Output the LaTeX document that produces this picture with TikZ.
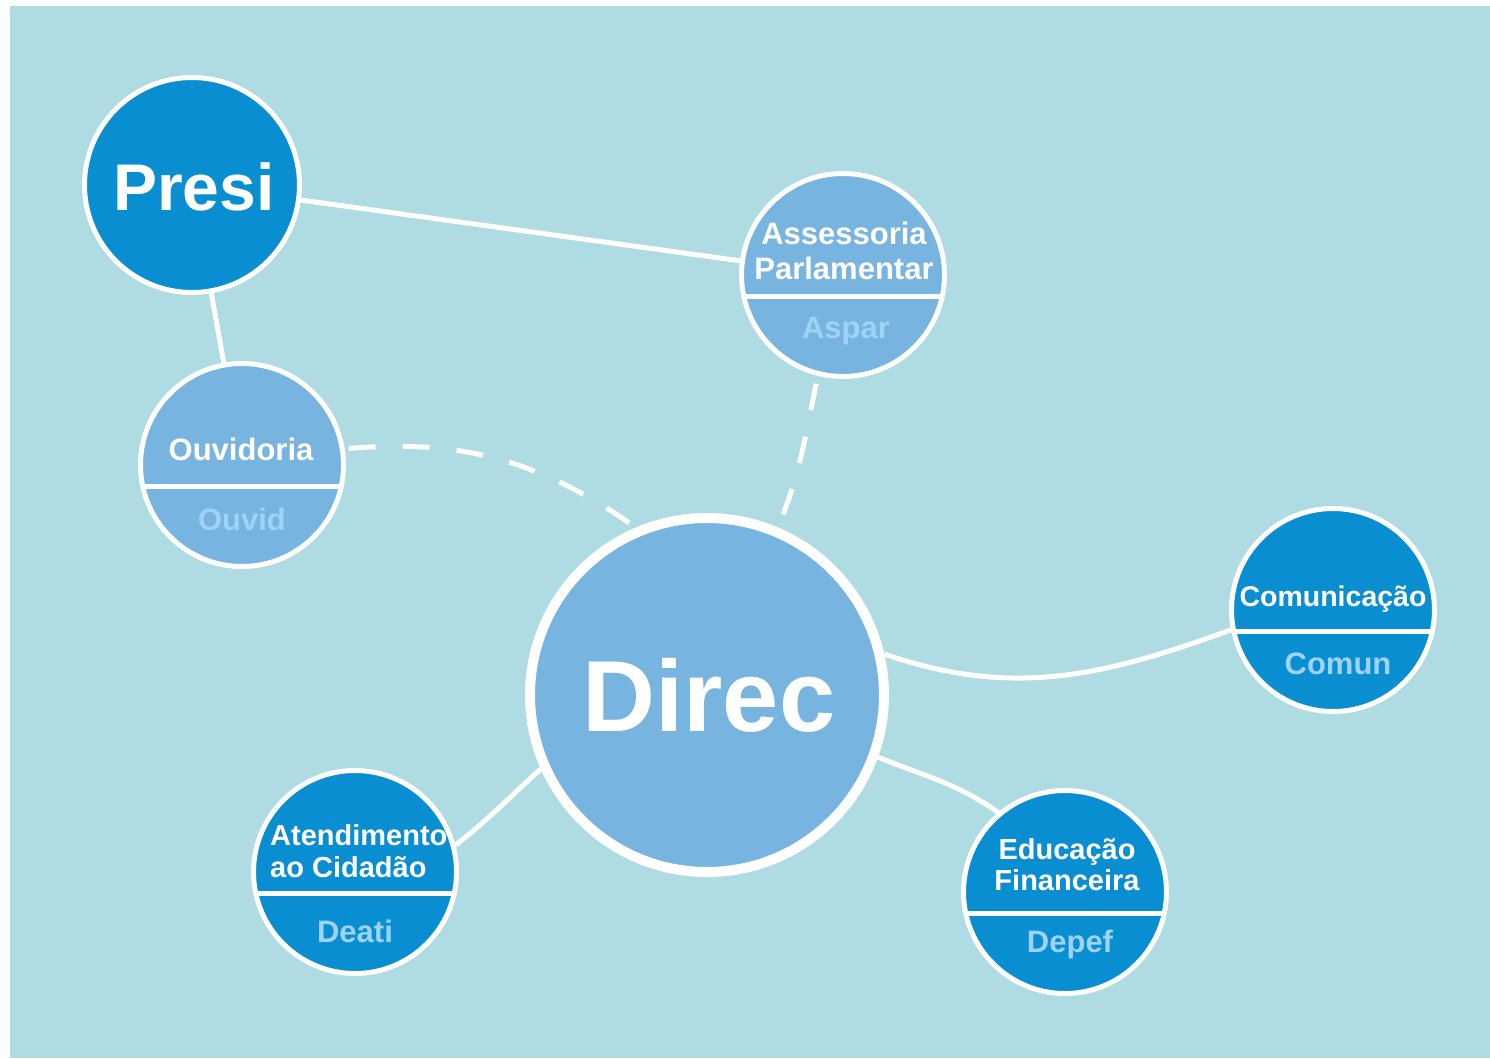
\documentclass[tikz,border=0pt]{standalone}
\usepackage{fontspec}
\setmainfont{Liberation Sans}
\definecolor{cBg}{RGB}{174,220,226}
\definecolor{cDark}{RGB}{9,142,210}
\definecolor{cLight}{RGB}{120,180,224}
\definecolor{cSub}{RGB}{158,211,245}
\begin{document}
\begin{tikzpicture}[x=1pt,y=1pt,
  bubble/.style={circle,draw=white,line width=5pt,inner sep=0pt,minimum size=203pt},
  darkb/.style={bubble,fill=cDark},
  lightb/.style={bubble,fill=cLight},
  split/.style={path picture={\draw[white,line width=5pt]
      ([yshift=-21pt]path picture bounding box.west) --
      ([yshift=-21pt]path picture bounding box.east);}},
  lbl/.style={text=white,font=\bfseries\fontsize{29}{29}\selectfont,inner sep=0pt,anchor=base},
  sub/.style={text=cSub,font=\bfseries\fontsize{31}{31}\selectfont,inner sep=0pt,anchor=base},
  link/.style={draw=white,line width=5pt},
  dlink/.style={link,dash pattern=on 27pt off 27pt}]
\useasboundingbox (0,0) rectangle (1490,-1058);
\fill[white] (0,0) rectangle (1490,-1058);
\fill[cBg] (10,-6) rectangle (1490,-1058);

% circles
\node[darkb,minimum size=215pt] (presi) at (192,-185) {};
\node[lightb,split] (aspar) at (843,-275) {};
\node[lightb,split] (ouvid) at (242,-465) {};
\node[circle,draw=white,fill=cLight,line width=10pt,inner sep=0pt,minimum size=354pt] (direc) at (707,-695) {};
\node[darkb,split] (comun) at (1333,-610) {};
\node[darkb,split] (deati) at (355,-872) {};
\node[darkb,split] (depef) at (1065,-892) {};

% connectors
\draw[link] (presi) -- (aspar);
\draw[link] (presi) -- (ouvid);
\draw[dlink,dash phase=50pt] (ouvid.9) to[out=5,in=145] (direc.113);
\draw[dlink,dash phase=46pt] (aspar.256) to[out=258,in=68] (direc.67);
\draw[link] (direc.13) to[out=-19,in=200] (comun.191);
\draw[link] (direc.204) to[out=222,in=38] (deati.15);
\draw[link] (direc.-20) to[out=-22,in=145] (depef.130);

% labels
\node[lbl,font=\bfseries\fontsize{66}{66}\selectfont] (presiT) at (194,-210) {Presi};
\node[lbl,font=\bfseries\fontsize{101}{101}\selectfont] (direcT) at (709,-731) {Direc};

\node[lbl,font=\bfseries\fontsize{31}{31}\selectfont] (asparT1) at (844,-244) {Assessoria};
\node[lbl,font=\bfseries\fontsize{31}{31}\selectfont] (asparT2) at (844,-279) {Parlamentar};
\node[sub] (asparS) at (846,-338) {Aspar};

\node[lbl,font=\bfseries\fontsize{31}{31}\selectfont] (ouvidT) at (241,-460) {Ouvidoria};
\node[sub] (ouvidS) at (242,-530) {Ouvid};

\node[lbl,font=\bfseries\fontsize{28.5}{28.5}\selectfont] (comunT) at (1333,-606) {Comunicação};
\node[sub] (comunS) at (1338,-674) {Comun};

\node[lbl,anchor=base west] (deatiT1) at (270,-845) {Atendimento};
\node[lbl,anchor=base west] (deatiT2) at (270,-877) {ao Cidadão};
\node[sub] (deatiS) at (355,-942) {Deati};

\node[lbl] (depefT1) at (1067,-859) {Educação};
\node[lbl] (depefT2) at (1067,-890) {Financeira};
\node[sub] (depefS) at (1070,-952) {Depef};
\end{tikzpicture}
\end{document}
